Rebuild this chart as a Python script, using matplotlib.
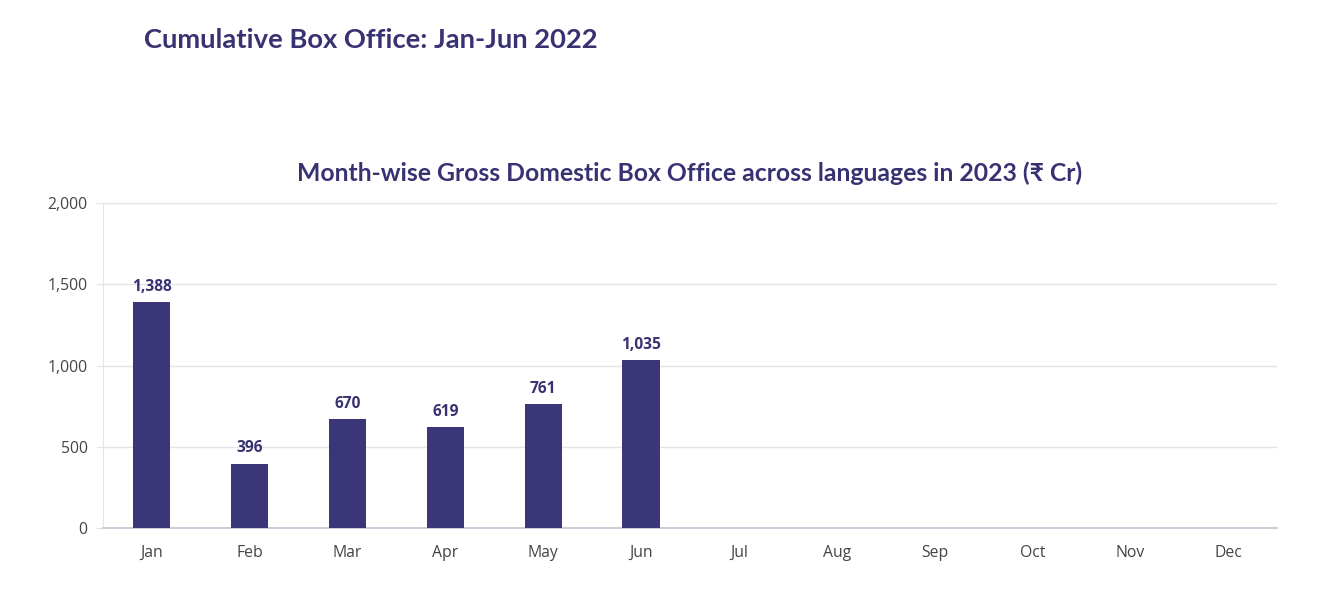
import matplotlib.pyplot as plt
import numpy as np

months = ['Jan', 'Feb', 'Mar', 'Apr', 'May', 'Jun',
          'Jul', 'Aug', 'Sep', 'Oct', 'Nov', 'Dec']
gross = [1388, 396, 670, 619, 761, 1035]
yticks = [0, 500, 1000, 1500, 2000]

bar_col = '#3b3677'
title_col = '#383272'
tick_col = '#444444'

fig = plt.figure(figsize=(13.25, 6.04), dpi=100)
ax = fig.add_axes([0.0777, 0.1258, 0.8861, 0.5381])

x = np.arange(len(months))
xs = x[:len(gross)]
ax.bar(xs, gross, width=0.38, color=bar_col, zorder=3)

for xi, v in zip(xs, gross):
    ax.text(xi, v + 45, f'{v:,}', ha='center', va='bottom',
            fontsize=11.2, fontweight='bold', color=title_col,
            family=['Open Sans', 'DejaVu Sans'])

ax.set_xlim(-0.5, len(months) - 0.5)
ax.set_ylim(0, 2000)
ax.set_xticks(x)
ax.set_xticklabels(months)
ax.set_yticks(yticks)
ax.set_yticklabels([f'{t:,}' for t in yticks])
for lbl in ax.get_xticklabels() + ax.get_yticklabels():
    lbl.set_family(['Open Sans', 'DejaVu Sans'])
    lbl.set_fontsize(11.3)
    lbl.set_color(tick_col)

ax.grid(axis='y', color='#e3e3ea', linewidth=1, zorder=0)
ax.tick_params(axis='x', length=0, pad=12)
ax.tick_params(axis='y', length=5, color='#e3e3ea', pad=6)
for s in ['top', 'right']:
    ax.spines[s].set_visible(False)
ax.spines['left'].set_color('#e3e3ea')
ax.spines['bottom'].set_color('#c8c8d6')
ax.spines['bottom'].set_linewidth(1.3)

ax.set_title('Month-wise Gross Domestic Box Office across languages in 2023 (₹ Cr)',
             fontsize=17.8, fontweight='bold', color=title_col, pad=16,
             family=['Lato', 'DejaVu Sans'])

fig.text(0.109, 0.934, 'Cumulative Box Office: Jan-Jun 2022', fontsize=19.7,
         fontweight='bold', color=title_col, va='center', ha='left',
         family=['Lato', 'DejaVu Sans'])

fig.savefig('out.png', dpi=100, facecolor='white')
